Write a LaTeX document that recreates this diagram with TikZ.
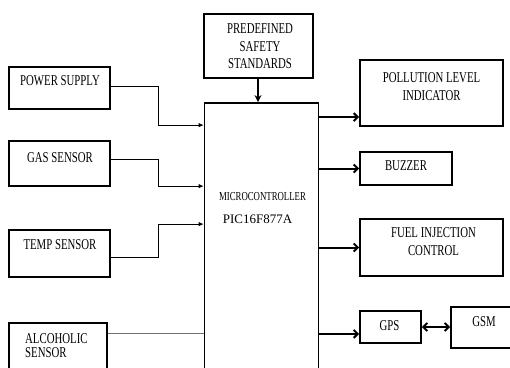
\documentclass[tikz,border=0pt]{standalone}
\usepackage{fontspec}
\setmainfont{Liberation Serif}[FakeStretch=0.72]
\newfontfamily\plainrm{Liberation Serif}
\usetikzlibrary{arrows.meta,calc}

\begin{document}
\begin{tikzpicture}[x=1pt,y=-1pt,
    blk/.style={draw,line width=1.8pt,inner sep=0pt},
    txt/.style={inner sep=0pt,align=center,font=\fontsize{15}{17.5}\selectfont},
    inline/.style={line width=0.8pt,-{Latex[length=5pt,width=4.5pt]}},
    outline/.style={line width=2pt,-{Straight Barb[length=4pt,width=8pt]}}]
          \useasboundingbox (0,0) rectangle (510,367);
          \clip (0,0) rectangle (510,367);

          % Blocks
          \node[blk,minimum width=109,minimum height=64] (predef) at (258.5,46) {};
          \node[blk,minimum width=114,minimum height=277] (micro) at (261.5,241.5) {};
          \node[blk,minimum width=101,minimum height=42] (power) at (59.5,88) {};
          \node[blk,minimum width=101,minimum height=45] (gas) at (59.5,163.5) {};
          \node[blk,minimum width=101,minimum height=47] (temp) at (59.5,253.5) {};
          \node[blk,minimum width=98,minimum height=67] (alc) at (58,356.5) {};
          \node[blk,minimum width=143,minimum height=66] (pollution) at (431.5,93) {};
          \node[blk,minimum width=92,minimum height=33] (buzzer) at (406,168.5) {};
          \node[blk,minimum width=143,minimum height=57] (fuel) at (431.5,247.5) {};
          \node[blk,minimum width=61,minimum height=32] (gps) at (390.5,327) {};
          \node[blk,minimum width=89,minimum height=41] (gsm) at (495.5,327.5) {};

          % Labels
          \node[txt] (predeftxt) at (260,46.5) {PREDEFINED\\SAFETY\\STANDARDS};
          \node[txt,font=\fontsize{12.2}{14}\selectfont] (microtxt) at (262.5,197) {MICROCONTROLLER};
          \node[txt,font=\plainrm\fontsize{13}{15}\selectfont] (pictxt) at (257.5,219) {PIC16F877A};
          \node[txt] (powertxt) at (60,81) {POWER SUPPLY};
          \node[txt] (gastxt) at (60,158) {GAS SENSOR};
          \node[txt] (temptxt) at (60,245) {TEMP SENSOR};
          \node[txt,align=left,anchor=west] (alctxt) at (25,346) {ALCOHOLIC\\[-3.5pt]SENSOR};
          \node[txt] (pollutiontxt) at (431.5,87) {POLLUTION LEVEL\\[0.5pt]INDICATOR};
          \node[txt] (buzzertxt) at (406,166) {BUZZER};
          \node[txt] (fueltxt) at (433.5,242) {FUEL INJECTION\\[0.5pt]CONTROL};
          \node[txt] (gpstxt) at (389.5,326) {GPS};
          \node[txt] (gsmtxt) at (484,322) {GSM};

          % Inputs
          \foreach \n/\a/\b in {power/2/-23, gas/4.5/-84, temp/-3.5/-122} {
              \draw[inline] ([yshift=\a]\n.east) -- ++(47,0) |- ([yshift=\b]micro.north west);
          }
          \coordinate (alcout) at ([yshift=-11]alc.north east);
          \draw[black!55,line width=0.9pt] (alcout) -- (alcout -| micro.west);
          \draw[line width=1.8pt,-{Stealth[length=7pt,width=7pt]}] ([xshift=-0.5]predef.south) -- ([xshift=-0.5]predef.south |- micro.north);

          % Outputs
          \coordinate (pollin) at ([yshift=-58]pollution.north west);
          \coordinate (gpsin) at ([yshift=10]gps.south west);
          \foreach \t in {pollin, buzzer.west, fuel.west, gpsin} {
              \draw[outline] (micro.east |- \t) -- (\t);
          }
          \draw[line width=2pt,{Straight Barb[length=4pt,width=8pt]}-{Straight Barb[length=4pt,width=8pt]}] (gps.east) -- (gps.east -| gsm.west);
      \end{tikzpicture}
\end{document}
